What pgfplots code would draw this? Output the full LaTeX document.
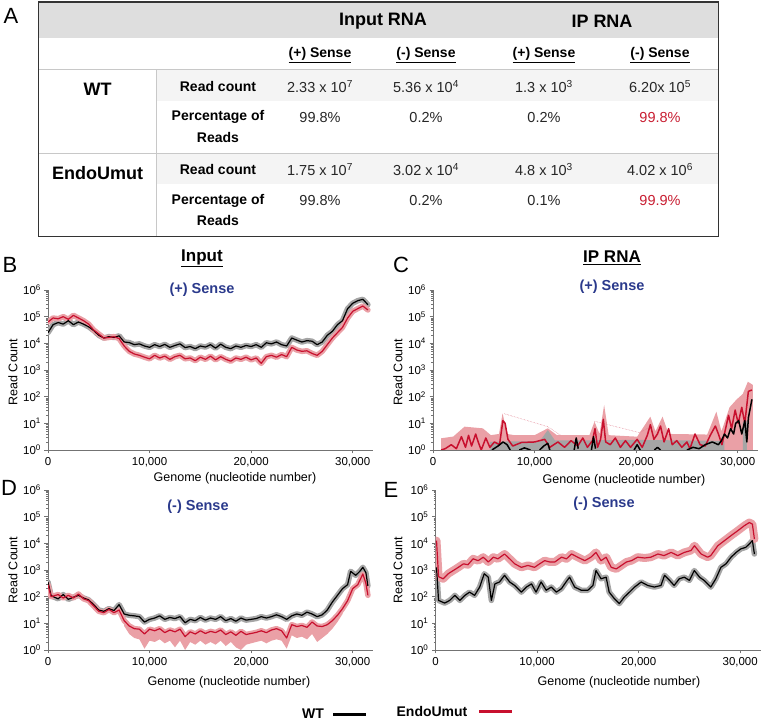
\documentclass[border=0pt]{standalone}
\usepackage{fontspec}
\setmainfont{Liberation Sans}
\usepackage{pgfplots}
\usepackage{pgfplotstable}
\pgfplotsset{compat=1.18}
\definecolor{redline}{RGB}{200,16,46}
\definecolor{pinkband}{RGB}{234,160,166}
\definecolor{grayband}{RGB}{165,165,165}
\definecolor{senseblue}{RGB}{43,58,140}
\definecolor{hdrgray}{RGB}{222,222,222}
\definecolor{rowgray}{RGB}{244,244,244}
\definecolor{linegray}{RGB}{200,200,200}
\definecolor{valred}{RGB}{200,30,50}
\newcommand{\fsz}[1]{\fontsize{#1}{#1}\selectfont}
\tikzset{myband/.style={line width=5.5pt, line join=round, line cap=round},
  myline/.style={line width=1.2pt, line join=round}}

\pgfplotstableread{
x y
0 2.51e4
500 5.01e4
1000 6.03e4
1500 5.25e4
2000 7.08e4
2500 5.01e4
3000 6.31e4
3500 5.25e4
4000 4.17e4
4500 3.02e4
5000 2.00e4
5500 1.58e4
6000 1.78e4
6500 1.66e4
7000 1.91e4
7500 1.12e4
8000 1.07e4
8500 8.91e3
9000 9.55e3
9500 7.94e3
10000 7.08e3
10500 8.91e3
11000 7.59e3
11500 9.12e3
12000 7.08e3
12500 8.32e3
13000 9.55e3
13500 6.92e3
14000 7.59e3
14500 6.31e3
15000 7.94e3
15500 7.24e3
16000 8.91e3
16500 6.61e3
17000 9.33e3
17500 7.08e3
18000 6.31e3
18500 7.94e3
19000 7.08e3
19500 8.32e3
20000 7.59e3
20500 8.91e3
21000 7.08e3
21500 1.05e4
22000 9.55e3
22500 1.12e4
23000 8.91e3
23500 7.94e3
24000 1.58e4
24500 1.32e4
25000 1.12e4
25500 1.26e4
26000 1.20e4
26500 8.91e3
27000 1.12e4
27500 2.00e4
28000 2.82e4
28500 5.01e4
29000 7.08e4
29500 2.00e5
30000 3.16e5
30500 3.98e5
31000 4.47e5
31500 2.82e5
}\Bwt

\pgfplotstableread{
x y
0 6.31e4
500 8.91e4
1000 8.32e4
1500 1.00e5
2000 7.94e4
2500 1.12e5
3000 8.91e4
3500 7.08e4
4000 5.25e4
4500 3.16e4
5000 2.24e4
5500 1.58e4
6000 1.66e4
6500 1.78e4
7000 1.51e4
7500 7.94e3
8000 5.01e3
8500 3.98e3
9000 3.55e3
9500 3.02e3
10000 2.63e3
10500 3.55e3
11000 2.82e3
11500 3.31e3
12000 2.51e3
12500 3.16e3
13000 3.55e3
13500 2.63e3
14000 2.82e3
14500 2.24e3
15000 3.02e3
15500 2.51e3
16000 3.31e3
16500 2.40e3
17000 3.16e3
17500 2.51e3
18000 2.14e3
18500 2.82e3
19000 2.51e3
19500 3.02e3
20000 2.40e3
20500 2.82e3
21000 1.78e3
21500 3.16e3
22000 3.55e3
22500 3.02e3
23000 3.80e3
23500 3.16e3
24000 7.08e3
24500 5.62e3
25000 5.01e3
25500 5.25e3
26000 4.17e3
26500 3.55e3
27000 5.01e3
27500 8.91e3
28000 1.58e4
28500 2.51e4
29000 3.98e4
29500 8.91e4
30000 1.58e5
30500 2.00e5
31000 2.51e5
31500 1.78e5
}\Bmut

\pgfplotstableread{
x y
0 355
300 112
500 100
1000 83.2
1500 120
2000 79.4
2500 95.5
3000 112
3500 89.1
4000 75.9
4500 50.1
5000 31.6
5500 28.2
6000 35.5
6500 30.2
7000 50.1
7500 22.4
8000 20.0
8500 19.1
9000 17.8
9500 11.2
10000 14.1
10500 15.8
11000 19.1
11500 14.1
12000 16.6
12500 15.1
13000 17.8
13500 10.5
14000 14.1
14500 12.6
15000 16.6
15500 13.2
16000 15.8
16500 14.1
17000 17.8
17500 12.6
18000 15.1
18500 12.0
19000 15.8
19500 13.2
20000 14.1
20500 15.1
21000 17.8
21500 15.8
22000 17.8
22500 20.9
23000 17.8
23500 14.1
24000 19.1
24500 22.4
25000 20.0
25500 26.3
26000 22.4
26500 17.8
27000 20.9
27500 31.6
28000 63.1
28500 112
29000 200
29500 282
29800 891
30300 631
30700 891
31000 1260
31300 794
31500 251
}\Dwt

\pgfplotstableread{
x y
0 282
300 100
500 105
1000 120
1500 89.1
2000 112
2500 89.1
3000 126
3500 83.2
4000 70.8
4500 44.7
5000 28.2
5500 25.1
6000 33.1
6500 25.1
7000 31.6
7500 12.6
8000 7.94
8500 6.31
9000 6.03
9500 3.98
10000 6.03
10500 5.25
11000 6.31
11500 4.47
12000 5.62
12500 4.79
13000 6.03
13500 3.16
14000 4.79
14500 3.98
15000 5.25
15500 4.17
16000 5.01
16500 4.47
17000 5.62
17500 3.80
18000 4.79
18500 3.55
19000 5.01
19500 3.80
20000 4.17
20500 4.57
21000 5.25
21500 4.47
22000 5.62
22500 6.31
23000 5.25
23500 2.82
24000 8.91
24500 7.59
25000 8.32
25500 7.08
26000 11.2
26500 7.94
27000 7.59
27500 8.91
28000 12.6
28500 20.0
29000 35.5
29500 70.8
30000 200
30500 282
31000 708
31300 316
31500 112
}\Dmut

\pgfplotstableread{
x y
100 1260
300 72.4
900 57.5
1400 72.4
1900 112
2400 72.4
2900 112
3350 148
3850 112
4350 229
4800 724
5200 537
5500 72.4
5850 302
6300 355
6800 631
7300 355
7800 263
8450 148
8950 229
9450 302
9900 148
10400 355
10900 174
11400 229
11900 148
12400 200
12850 355
13200 537
13700 229
14350 174
15000 174
15500 263
15800 955
16300 468
16800 537
17100 148
17600 85.1
18100 55.0
18600 97.7
19100 148
19600 229
20250 355
20900 263
21550 229
22200 263
22550 631
23050 407
23500 263
24000 468
24500 537
25000 407
25480 955
26000 537
26450 407
27100 229
27600 468
28100 1260
28600 1700
29100 3020
29600 4570
30050 6170
30550 7080
30900 9550
31200 12600
31400 3980
}\Ewt

\pgfplotstableread{
x y
100 12600
300 562
750 468
1250 724
1750 955
2250 1260
2750 1700
3200 1580
3700 2630
4200 2240
4700 3020
5200 2000
5700 3020
6150 2630
6800 3980
7300 2630
7800 1700
8450 1260
9100 1480
9750 1260
10250 1700
10750 2240
11250 2000
11750 2000
12400 3020
12900 2630
13400 3980
14000 3020
14700 2240
15300 3020
15800 4570
16300 2240
16800 3020
17300 1260
17800 1100
18300 1480
18800 2000
19300 2240
19900 3020
20600 2820
21200 3020
21900 3980
22500 3470
23200 4570
23850 3470
24500 4570
25150 5370
25500 8130
26150 3980
26800 3020
27100 3470
27800 8130
28450 12600
29100 19500
29750 29500
30400 45700
30900 60300
31200 52500
31400 14500
}\Emut

\pgfplotsset{every axis/.append style={scale only axis, width=325pt, height=160pt,
  xmin=0, xmax=32000, ymin=1, ymax=1000000, scaled x ticks=false,
  axis lines=left, axis line style={-, draw=black!55, line width=0.9pt},
  every tick/.append style={draw=black!55, line width=0.6pt}, tick align=outside,
  major tick length=3.5pt, minor tick length=2pt,
  ytick={1,10,100,1000,10000,100000,1000000},
  yticklabels={10\textsuperscript{0},10\textsuperscript{1},10\textsuperscript{2},10\textsuperscript{3},10\textsuperscript{4},10\textsuperscript{5},10\textsuperscript{6}},
  minor ytick={2,3,4,5,6,7,8,9,20,30,40,50,60,70,80,90,200,300,400,500,600,700,800,900,2000,3000,4000,5000,6000,7000,8000,9000,20000,30000,40000,50000,60000,70000,80000,90000,200000,300000,400000,500000,600000,700000,800000,900000},
  xtick={0,10000,20000,30000}, xticklabels={0,{10,000},{20,000},{30,000}},
  every tick label/.append style={font=\fsz{11.5}}}}

\begin{document}
\begin{tikzpicture}
\path[use as bounding box] (0pt,0pt) rectangle (762pt,725pt);

% ---------------- Panel B ----------------
\begin{axis}[ymode=log, at={(48pt,275pt)}, anchor=south west]
\addplot[myband, draw=grayband] table {\Bwt};
\addplot[myband, draw=pinkband] table {\Bmut};
\addplot[myline, draw=black] table {\Bwt};
\addplot[myline, draw=redline] table {\Bmut};
\end{axis}

% ---------------- Panel C ----------------
\begin{axis}[ymode=log, at={(433pt,275pt)}, anchor=south west]
\addplot[fill=pinkband, draw=none] coordinates {(800,1) (800,2.75) (2000,3.2) (3100,7.5) (4900,6.5) (5700,3.6) (6500,4.0) (6850,23.7) (7300,4.0) (8000,3.6) (10000,3.6) (11300,6.5) (12200,3.6) (15400,3.6) (15900,11.5) (16400,4.0) (16850,48.7) (17300,3.6) (20100,3.16) (21400,17.8) (21900,5.0) (22600,17.8) (23200,4.0) (27000,3.8) (27900,27.4) (28400,5.0) (29200,40) (29900,79) (30500,126) (31000,363) (31500,275) (31500,1)};
\addplot[fill=grayband, draw=none] coordinates {(5600,1) (5600,2.0) (7500,2.1) (10500,2.1) (11300,5.6) (12000,2.3) (15000,2.3) (20000,2.4) (24000,2.3) (28700,2.2) (28700,1)};
\addplot[fill=grayband, draw=none] coordinates {(30500,1) (30500,11.2) (30900,12.6) (30900,1)};
\addplot[densely dotted, draw=redline!60, line width=0.5pt] coordinates {(7000,23) (11300,7.5) (12600,3.5)};
\addplot[densely dotted, draw=redline!60, line width=0.5pt] coordinates {(15900,12) (20300,4.5) (21300,7)};
\addplot[myline, draw=redline, line width=1.5pt] coordinates {(800,1) (1200,1.12) (1800,1.58) (2300,1.12) (2800,3.16) (3200,1.26) (3500,3.55) (3800,1.41) (4200,3.98) (4450,2.0) (4750,1) (5200,2.82) (5600,1.26) (6050,2.0) (6550,1.58) (6880,12.6) (7100,10) (7380,2.51) (7850,1.41) (8700,1.91) (10000,2.0) (11000,2.51) (11500,1.26) (12300,2.0) (12950,1.26) (13600,2.24) (14250,1.41) (14750,2.82) (15200,1.26) (15700,2.24) (15950,6.31) (16200,1.26) (16500,2.51) (16770,14.1) (17000,2.0) (17450,1.58) (17950,2.82) (18450,1.26) (18950,2.24) (19450,1.26) (20100,2.51) (20600,1.26) (21100,3.55) (21400,8.91) (21750,2.51) (22100,3.98) (22400,7.94) (22750,2.0) (23200,6.31) (23550,1.58) (24000,2.24) (24500,1.26) (25000,2.0) (25300,1.12) (25800,3.98) (26300,1.58) (26800,1.41) (27300,3.55) (27800,7.94) (28100,3.98) (28450,1.58) (28750,5.01) (29100,20.0) (29400,6.31) (29750,31.6) (30050,10) (30400,39.8) (30700,10) (31050,158) (31400,178)};
\addplot[myline, draw=black, line width=1.5pt] coordinates {(5800,1) (6400,1.41) (6900,2.0) (7300,1.58) (7600,1)};
\addplot[myline, draw=black, line width=1.5pt] coordinates {(8500,1) (9000,1.2) (9600,1)};
\addplot[myline, draw=black, line width=1.5pt] coordinates {(10500,1) (10900,1.41) (11300,1.78) (11500,1)};
\addplot[myline, draw=black, line width=1.5pt] coordinates {(13900,1) (14100,2.82) (14300,1.12)};
\addplot[myline, draw=black, line width=1.5pt] coordinates {(15600,1) (15800,3.16) (16000,1.12)};
\addplot[myline, draw=black, line width=1.5pt] coordinates {(19800,1) (20100,1.58) (20400,1)};
\addplot[myline, draw=black, line width=1.5pt] coordinates {(21800,1) (22100,1.26) (22400,1)};
\addplot[myline, draw=black, line width=1.5pt] coordinates {(25000,1) (25600,1.26) (26200,1.12) (26800,1.58) (27500,2.0) (28100,1.58) (28400,2.24) (28700,3.98) (29000,2.82) (29300,6.31) (29600,3.98) (29800,10) (30100,12.6) (30400,3.98) (30700,12.6) (30900,2.0) (31050,15.8) (31200,31.6) (31400,79.4)};
\end{axis}

% ---------------- Panel D ----------------
\begin{axis}[ymode=log, at={(48pt,75pt)}, anchor=south west]
\addplot[fill=pinkband, draw=none] coordinates {(7500,12.6) (8000,7.94) (8500,6.31) (9000,6.03) (9500,3.98) (10000,6.03) (10500,5.25) (11000,6.31) (11500,4.47) (12000,5.62) (12500,4.79) (13000,6.03) (13500,3.16) (14000,4.79) (14500,3.98) (15000,5.25) (15500,4.17) (16000,5.01) (16500,4.47) (17000,5.62) (17500,3.80) (18000,4.79) (18500,3.55) (19000,5.01) (19500,3.80) (20000,4.17) (20500,4.57) (21000,5.25) (21500,4.47) (22000,5.62) (22500,6.31) (23000,5.25) (23500,2.82) (24000,8.91) (24500,7.59) (25000,8.32) (25500,7.08) (26000,11.2) (26500,7.94) (27000,7.59) (27500,8.91) (28000,12.6) (28500,20.0) (29000,35.5) (29000,22.4) (28500,11.2) (28000,6.31) (27500,3.98) (27000,2.82) (26500,2.0) (26000,3.98) (25500,2.51) (25000,3.16) (24500,2.82) (24000,3.55) (23500,1.12) (23000,2.24) (22500,2.51) (22000,2.24) (21500,1.78) (21000,2.24) (20500,2.0) (20000,1.78) (19500,1.58) (19000,1.0) (18500,1.26) (18000,2.0) (17500,1.41) (17000,2.24) (16500,1.58) (16000,2.0) (15500,1.58) (15000,2.24) (14500,1.58) (14000,2.0) (13500,1.0) (13000,2.24) (12500,1.26) (12000,2.24) (11500,1.78) (11000,2.51) (10500,2.0) (10000,2.24) (9500,1.12) (9000,2.51) (8500,2.82) (8000,3.98) (7500,7.94)};
\addplot[myband, draw=grayband] table {\Dwt};
\addplot[myband, draw=pinkband] table {\Dmut};
\addplot[myline, draw=black] table {\Dwt};
\addplot[myline, draw=redline] table {\Dmut};
\end{axis}

% ---------------- Panel E ----------------
\begin{axis}[ymode=log, at={(435.5pt,75pt)}, anchor=south west]
\addplot[myband, draw=grayband] table {\Ewt};
\addplot[myband, draw=pinkband, line width=8pt] table {\Emut};
\addplot[myline, draw=black] table {\Ewt};
\addplot[myline, draw=redline] table {\Emut};
\end{axis}

\begin{scope}[x=1pt,y=1pt]
% ---------------- Panel A : table ----------------
\fill[hdrgray] (38.3,687.3) rectangle (718.3,723);
\fill[rowgray] (156.7,624) rectangle (718.3,655.7);
\fill[rowgray] (156.7,541) rectangle (718.3,571.7);
\draw[linegray, line width=1.5pt] (38.3,655.7) -- (718.3,655.7);
\draw[linegray, line width=1.5pt] (38.3,571.7) -- (718.3,571.7);
\draw[linegray, line width=1.5pt] (156.7,655.7) -- (156.7,488.3);
\draw[black!80, line width=1.4pt] (38.3,488.3) rectangle (718.3,723);
\node[font=\fsz{22}] at (11,709) {A};
\node[font=\bfseries\fsz{18}] at (383,704) {Input RNA};
\node[font=\bfseries\fsz{18}] at (602,704) {IP RNA};
\node[font=\bfseries\fsz{14}] at (320,670) {\underline{(+) Sense}};
\node[font=\bfseries\fsz{14}] at (426,670) {\underline{(-) Sense}};
\node[font=\bfseries\fsz{14}] at (544,670) {\underline{(+) Sense}};
\node[font=\bfseries\fsz{14}] at (660,670) {\underline{(-) Sense}};
\node[font=\bfseries\fsz{18}] at (97.7,636) {WT};
\node[font=\bfseries\fsz{18}] at (97.7,552.3) {EndoUmut};
\node[font=\bfseries\fsz{14}] at (218,638.3) {Read count};
\node[font=\bfseries\fsz{14}] at (218,607.7) {Percentage of};
\node[font=\bfseries\fsz{14}] at (218,587.7) {Reads};
\node[font=\bfseries\fsz{14}] at (218,555.7) {Read count};
\node[font=\bfseries\fsz{14}] at (218,524) {Percentage of};
\node[font=\bfseries\fsz{14}] at (218,504) {Reads};
\node[font=\fsz{14.5}, text=black!85] at (320,638.3) {2.33 x 10\textsuperscript{7}};
\node[font=\fsz{14.5}, text=black!85] at (426,638.3) {5.36 x 10\textsuperscript{4}};
\node[font=\fsz{14.5}, text=black!85] at (544,638.3) {1.3 x 10\textsuperscript{3}};
\node[font=\fsz{14.5}, text=black!85] at (660,638.3) {6.20x 10\textsuperscript{5}};
\node[font=\fsz{14.5}, text=black!85] at (320,607.7) {99.8\%};
\node[font=\fsz{14.5}, text=black!85] at (426,607.7) {0.2\%};
\node[font=\fsz{14.5}, text=black!85] at (544,607.7) {0.2\%};
\node[font=\fsz{14.5}, text=valred] at (660,607.7) {99.8\%};
\node[font=\fsz{14.5}, text=black!85] at (320,555.7) {1.75 x 10\textsuperscript{7}};
\node[font=\fsz{14.5}, text=black!85] at (426,555.7) {3.02 x 10\textsuperscript{4}};
\node[font=\fsz{14.5}, text=black!85] at (544,555.7) {4.8 x 10\textsuperscript{3}};
\node[font=\fsz{14.5}, text=black!85] at (660,555.7) {4.02 x 10\textsuperscript{6}};
\node[font=\fsz{14.5}, text=black!85] at (320,524) {99.8\%};
\node[font=\fsz{14.5}, text=black!85] at (426,524) {0.2\%};
\node[font=\fsz{14.5}, text=black!85] at (544,524) {0.1\%};
\node[font=\fsz{14.5}, text=valred] at (660,524) {99.9\%};

% ---------------- labels ----------------
\node[font=\fsz{22}] at (10,460) {B};
\node[font=\fsz{22}] at (401,460) {C};
\node[font=\fsz{22}] at (9,237) {D};
\node[font=\fsz{22}] at (391,235) {E};
\node[font=\bfseries\fsz{17}] at (202,467) {\underline{Input}};
\node[font=\bfseries\fsz{17}] at (612,467) {\underline{IP RNA}};
\node[font=\bfseries\fsz{14.5}, text=senseblue] at (202,435) {(+) Sense};
\node[font=\bfseries\fsz{14.5}, text=senseblue] at (612,438) {(+) Sense};
\node[font=\bfseries\fsz{14.5}, text=senseblue] at (198,218) {(-) Sense};
\node[font=\bfseries\fsz{14.5}, text=senseblue] at (604,221) {(-) Sense};
\node[font=\fsz{12.5}] at (235,247) {Genome (nucleotide number)};
\node[font=\fsz{12.5}] at (624,245) {Genome (nucleotide number)};
\node[font=\fsz{12.5}] at (229,43) {Genome (nucleotide number)};
\node[font=\fsz{12.5}] at (619,43) {Genome (nucleotide number)};
\node[font=\fsz{12.5}, rotate=90] at (13,353) {Read Count};
\node[font=\fsz{12.5}, rotate=90] at (398,353) {Read Count};
\node[font=\fsz{12.5}, rotate=90] at (13,155) {Read Count};
\node[font=\fsz{12.5}, rotate=90] at (398,155) {Read Count};

% legend
\node[font=\bfseries\fsz{14}] at (313,11) {WT};
\draw[black, line width=3pt] (333,11) -- (366,11);
\node[font=\bfseries\fsz{14}] at (432,13.3) {EndoUmut};
\draw[redline, line width=3pt] (479,13.3) -- (512,13.3);
\end{scope}
\end{tikzpicture}
\end{document}
